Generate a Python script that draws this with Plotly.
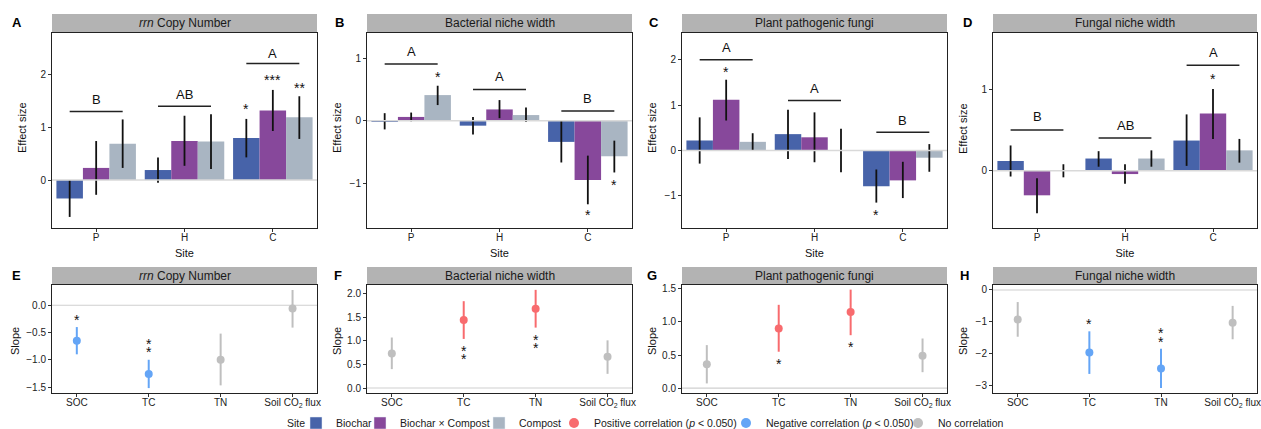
import plotly.graph_objects as go

W, H = 1261, 429
FONT = "Liberation Sans, Arial, sans-serif"

# ---------------- data ----------------
sites = ["P", "H", "C"]
treatments = ["Biochar", "Biochar × Compost", "Compost"]
factors = ["SOC", "TC", "TN", "Soil CO<sub>2</sub> flux"]

top_titles = ["<i>rrn</i> Copy Number", "Bacterial niche width",
              "Plant pathogenic fungi", "Fungal niche width"]
bottom_titles = top_titles
top_letters_panel = ["A", "B", "C", "D"]
bottom_letters_panel = ["E", "F", "G", "H"]
top_ytitle = "Effect size"
bottom_ytitle = "Slope"
legend_title = "Site"

# Panel A: rrn copy number (effect size, lower / upper CI)
rrn_biochar = [-0.35, 0.19, 0.80]
rrn_biochar_lo = [-0.70, -0.05, 0.43]
rrn_biochar_hi = [0.00, 0.43, 1.16]
rrn_bxc = [0.23, 0.74, 1.32]
rrn_bxc_lo = [-0.28, 0.27, 0.93]
rrn_bxc_hi = [0.74, 1.22, 1.71]
rrn_compost = [0.69, 0.73, 1.19]
rrn_compost_lo = [0.23, 0.21, 0.78]
rrn_compost_hi = [1.15, 1.25, 1.59]
rrn_groups = ["B", "AB", "A"]
rrn_group_line = [1.30, 1.40, 2.21]
rrn_group_text = [1.52, 1.62, 2.41]
rrn_star_site = [2, 2, 2]
rrn_star_trt = [0, 1, 2]
rrn_star_text = ["*", "***", "**"]
rrn_star_y = [1.40, 1.96, 1.81]

# Panel B: bacterial niche width
bnw_biochar = [-0.01, -0.08, -0.34]
bnw_biochar_lo = [-0.14, -0.22, -0.67]
bnw_biochar_hi = [0.12, 0.06, 0.00]
bnw_bxc = [0.06, 0.18, -0.95]
bnw_bxc_lo = [-0.01, 0.04, -1.34]
bnw_bxc_hi = [0.13, 0.33, -0.56]
bnw_compost = [0.41, 0.09, -0.57]
bnw_compost_lo = [0.25, -0.02, -0.83]
bnw_compost_hi = [0.56, 0.21, -0.32]
bnw_groups = ["A", "A", "B"]
bnw_group_line = [0.91, 0.50, 0.155]
bnw_group_text = [1.11, 0.70, 0.35]
bnw_star_site = [0, 2, 2]
bnw_star_trt = [2, 1, 2]
bnw_star_text = ["*", "*", "*"]
bnw_star_y = [0.75, -1.47, -0.98]

# Panel C: plant pathogenic fungi
ppf_biochar = [0.22, 0.36, -0.79]
ppf_biochar_lo = [-0.29, -0.19, -1.15]
ppf_biochar_hi = [0.73, 0.90, -0.42]
ppf_bxc = [1.12, 0.29, -0.66]
ppf_bxc_lo = [0.66, -0.26, -1.05]
ppf_bxc_hi = [1.56, 0.84, -0.25]
ppf_compost = [0.19, 0.00, -0.16]
ppf_compost_lo = [-0.01, -0.48, -0.47]
ppf_compost_hi = [0.38, 0.48, 0.14]
ppf_groups = ["A", "A", "B"]
ppf_group_line = [2.00, 1.10, 0.40]
ppf_group_text = [2.26, 1.375, 0.66]
ppf_star_site = [0, 2]
ppf_star_trt = [1, 0]
ppf_star_text = ["*", "*"]
ppf_star_y = [1.79, -1.36]

# Panel D: fungal niche width
fnw_biochar = [0.12, 0.15, 0.37]
fnw_biochar_lo = [-0.07, 0.05, 0.06]
fnw_biochar_hi = [0.31, 0.24, 0.69]
fnw_bxc = [-0.30, -0.04, 0.70]
fnw_bxc_lo = [-0.52, -0.16, 0.39]
fnw_bxc_hi = [-0.09, 0.08, 1.00]
fnw_compost = [0.005, 0.15, 0.25]
fnw_compost_lo = [-0.08, 0.05, 0.10]
fnw_compost_hi = [0.08, 0.25, 0.39]
fnw_groups = ["B", "AB", "A"]
fnw_group_line = [0.50, 0.40, 1.29]
fnw_group_text = [0.66, 0.56, 1.45]
fnw_star_site = [2]
fnw_star_trt = [1]
fnw_star_text = ["*"]
fnw_star_y = [1.155]

# Panel E-H: slopes vs soil factors
e_slope = [-0.65, -1.26, -1.00, -0.06]
e_lo = [-0.90, -1.52, -1.47, -0.41]
e_hi = [-0.40, -1.00, -0.52, 0.28]
e_corr = ["neg", "neg", "none", "none"]
e_star_x = [0, 1, 1]
e_star_y = [-0.21, -0.65, -0.80]

f_slope = [0.73, 1.44, 1.68, 0.66]
f_lo = [0.40, 1.04, 1.28, 0.30]
f_hi = [1.07, 1.84, 2.08, 1.01]
f_corr = ["none", "pos", "pos", "none"]
f_star_x = [1, 1, 2, 2]
f_star_y = [0.845, 0.68, 1.09, 0.915]

g_slope = [0.36, 0.90, 1.15, 0.49]
g_lo = [0.07, 0.55, 0.80, 0.24]
g_hi = [0.65, 1.26, 1.49, 0.75]
g_corr = ["none", "pos", "pos", "none"]
g_star_x = [1, 2]
g_star_y = [0.41, 0.67]

h_slope = [-0.93, -1.97, -2.47, -1.03]
h_lo = [-1.47, -2.64, -3.08, -1.55]
h_hi = [-0.38, -1.30, -1.85, -0.50]
h_corr = ["none", "neg", "neg", "none"]
h_star_x = [1, 2, 2]
h_star_y = [-0.96, -1.27, -1.53]

corr_names = {"pos": "Positive correlation (<i>p</i> &lt; 0.050)",
              "neg": "Negative correlation (<i>p</i> &lt; 0.050)",
              "none": "No correlation"}

# ---------------- styles ----------------
trt_colors = ["#4763A9", "#87489B", "#A9B5C2"]
corr_colors = {"pos": "#F86B6E", "neg": "#64A5F6", "none": "#BFBFBF"}
dodge = [-0.3, 0.0, 0.3]

top_panels = [
    dict(vals=[rrn_biochar, rrn_bxc, rrn_compost], lo=[rrn_biochar_lo, rrn_bxc_lo, rrn_compost_lo],
         hi=[rrn_biochar_hi, rrn_bxc_hi, rrn_compost_hi], groups=rrn_groups, gline=rrn_group_line,
         gtext=rrn_group_text, ss=rrn_star_site, st=rrn_star_trt, stx=rrn_star_text, sy=rrn_star_y,
         yrange=[-0.91, 2.79], tickvals=[0, 1, 2]),
    dict(vals=[bnw_biochar, bnw_bxc, bnw_compost], lo=[bnw_biochar_lo, bnw_bxc_lo, bnw_compost_lo],
         hi=[bnw_biochar_hi, bnw_bxc_hi, bnw_compost_hi], groups=bnw_groups, gline=bnw_group_line,
         gtext=bnw_group_text, ss=bnw_star_site, st=bnw_star_trt, stx=bnw_star_text, sy=bnw_star_y,
         yrange=[-1.72, 1.405], tickvals=[-1, 0, 1]),
    dict(vals=[ppf_biochar, ppf_bxc, ppf_compost], lo=[ppf_biochar_lo, ppf_bxc_lo, ppf_compost_lo],
         hi=[ppf_biochar_hi, ppf_bxc_hi, ppf_compost_hi], groups=ppf_groups, gline=ppf_group_line,
         gtext=ppf_group_text, ss=ppf_star_site, st=ppf_star_trt, stx=ppf_star_text, sy=ppf_star_y,
         yrange=[-1.71, 2.59], tickvals=[-1, 0, 1, 2]),
    dict(vals=[fnw_biochar, fnw_bxc, fnw_compost], lo=[fnw_biochar_lo, fnw_bxc_lo, fnw_compost_lo],
         hi=[fnw_biochar_hi, fnw_bxc_hi, fnw_compost_hi], groups=fnw_groups, gline=fnw_group_line,
         gtext=fnw_group_text, ss=fnw_star_site, st=fnw_star_trt, stx=fnw_star_text, sy=fnw_star_y,
         yrange=[-0.70, 1.686], tickvals=[0, 1]),
]

bottom_panels = [
    dict(s=e_slope, lo=e_lo, hi=e_hi, corr=e_corr, sx=e_star_x, sy=e_star_y,
         yrange=[-1.61, 0.372], tickvals=[0.0, -0.5, -1.0, -1.5], fmt=".1f"),
    dict(s=f_slope, lo=f_lo, hi=f_hi, corr=f_corr, sx=f_star_x, sy=f_star_y,
         yrange=[-0.106, 2.183], tickvals=[0.0, 0.5, 1.0, 1.5, 2.0], fmt=".1f"),
    dict(s=g_slope, lo=g_lo, hi=g_hi, corr=g_corr, sx=g_star_x, sy=g_star_y,
         yrange=[-0.075, 1.56], tickvals=[0.0, 0.5, 1.0, 1.5], fmt=".1f"),
    dict(s=h_slope, lo=h_lo, hi=h_hi, corr=h_corr, sx=h_star_x, sy=h_star_y,
         yrange=[-3.24, 0.157], tickvals=[0, -1, -2, -3], fmt="d"),
]

xpix = [(52, 317), (367, 632), (682, 947), (993, 1257)]
top_ypix = (33, 228)
bot_ypix = (285, 393)
top_strip = (14, 33)
bot_strip = (267, 285)
top_letter_pos = [(17, 22.5), (339.5, 22.5), (654, 22.5), (967, 22.5)]
bot_letter_pos = [(16.5, 275.5), (338, 275.5), (652, 275.5), (964.5, 275.5)]
top_ytitle_px = [(22, 128), (337, 128), (652, 128), (963, 128)]
bot_ytitle_px = [(15, 341), (337, 341), (652, 341), (963, 341)]

fig = go.Figure()
shapes = []
annotations = []
layout = {}


def sfx(i):
    return "" if i == 1 else str(i)


def px2x(p):
    return p / W


def px2y(p):
    return 1 - p / H


axis_common = dict(showgrid=False, zeroline=False, showline=True, mirror=True,
                   linecolor="#222222", linewidth=1, ticks="outside", ticklen=3,
                   tickcolor="#333333", tickwidth=1,
                   tickfont=dict(family=FONT, size=10, color="#222222"))


def paper_text(x, y, text, size, angle=0, color="#111111"):
    return dict(x=px2x(x), y=px2y(y), xref="paper", yref="paper", text=text, showarrow=False,
                font=dict(family=FONT, size=size, color=color), textangle=angle,
                xanchor="center", yanchor="middle")


# -------- top panels (bars) --------
for k, p in enumerate(top_panels):
    i = k + 1
    xa, ya = "x" + sfx(i), "y" + sfx(i)
    for t in range(3):
        xs = [s + 1 + dodge[t] for s in range(3)]
        v = p["vals"][t]
        fig.add_trace(go.Bar(
            x=xs, y=v, width=0.3, marker=dict(color=trt_colors[t], line=dict(width=0)),
            error_y=dict(type="data", symmetric=False,
                         array=[h - a for h, a in zip(p["hi"][t], v)],
                         arrayminus=[a - l for a, l in zip(v, p["lo"][t])],
                         color="#111111", thickness=1.8, width=0),
            xaxis=xa, yaxis=ya, showlegend=False, name=treatments[t]))
    # significance group lines
    lx, ly = [], []
    for s in range(3):
        lx += [s + 1 + dodge[0], s + 1 + dodge[2], None]
        ly += [p["gline"][s], p["gline"][s], None]
    fig.add_trace(go.Scatter(x=lx, y=ly, mode="lines", line=dict(color="#222222", width=1.5),
                             xaxis=xa, yaxis=ya, showlegend=False, hoverinfo="skip"))
    for s in range(3):
        annotations.append(dict(x=s + 1, y=p["gtext"][s], xref=xa, yref=ya, text=p["groups"][s],
                                showarrow=False, font=dict(family=FONT, size=13, color="#111111"),
                                xanchor="center", yanchor="middle"))
    for s, t, tx, y in zip(p["ss"], p["st"], p["stx"], p["sy"]):
        annotations.append(dict(x=s + 1 + dodge[t], y=y, xref=xa, yref=ya, text=tx, showarrow=False,
                                font=dict(family=FONT, size=14, color="#111111"),
                                xanchor="center", yanchor="middle", yshift=-3))
    shapes.append(dict(type="line", xref=xa + " domain", yref=ya, x0=0, x1=1, y0=0, y1=0,
                       line=dict(color="#D9D9D9", width=1.5), layer="above"))
    layout["xaxis" + sfx(i)] = dict(axis_common, domain=[px2x(xpix[k][0]), px2x(xpix[k][1])],
                                    range=[0.5, 3.5], tickvals=[1, 2, 3], ticktext=sites,
                                    anchor=ya, ticklabelstandoff=-3,
                                    title=dict(text="Site", font=dict(family=FONT, size=11, color="#111111"),
                                               standoff=7))
    layout["yaxis" + sfx(i)] = dict(axis_common, domain=[px2y(top_ypix[1]), px2y(top_ypix[0])],
                                    range=p["yrange"], tickvals=p["tickvals"], anchor=xa)
    annotations.append(paper_text(top_ytitle_px[k][0], top_ytitle_px[k][1], top_ytitle, 11, -90))
    # strip
    shapes.append(dict(type="rect", xref="paper", yref="paper",
                       x0=px2x(xpix[k][0]), x1=px2x(xpix[k][1]),
                       y0=px2y(top_strip[1]), y1=px2y(top_strip[0]),
                       fillcolor="#B3B3B3", line=dict(width=0), layer="below"))
    annotations.append(paper_text((xpix[k][0] + xpix[k][1]) / 2, sum(top_strip) / 2,
                                  top_titles[k], 12, color="#1A1A1A"))
    annotations.append(paper_text(top_letter_pos[k][0], top_letter_pos[k][1],
                                  "<b>%s</b>" % top_letters_panel[k], 13, color="#000000"))

# -------- bottom panels (slopes) --------
for k, p in enumerate(bottom_panels):
    i = k + 5
    xa, ya = "x" + sfx(i), "y" + sfx(i)
    shapes.append(dict(type="line", xref=xa + " domain", yref=ya, x0=0, x1=1, y0=0, y1=0,
                       line=dict(color="#CFCFCF", width=1.2), layer="below"))
    for c in ["pos", "neg", "none"]:
        idx = [j for j, cc in enumerate(p["corr"]) if cc == c]
        if not idx:
            continue
        xs = [j + 1 for j in idx]
        ys = [p["s"][j] for j in idx]
        fig.add_trace(go.Scatter(
            x=xs, y=ys, mode="markers", marker=dict(color=corr_colors[c], size=8),
            error_y=dict(type="data", symmetric=False,
                         array=[p["hi"][j] - p["s"][j] for j in idx],
                         arrayminus=[p["s"][j] - p["lo"][j] for j in idx],
                         color=corr_colors[c], thickness=2, width=0),
            xaxis=xa, yaxis=ya, showlegend=False, name=corr_names[c]))
    for sx, sy in zip(p["sx"], p["sy"]):
        annotations.append(dict(x=sx + 1, y=sy, xref=xa, yref=ya, text="*", showarrow=False,
                                font=dict(family=FONT, size=14, color="#111111"),
                                xanchor="center", yanchor="middle", yshift=-3))
    layout["xaxis" + sfx(i)] = dict(axis_common, domain=[px2x(xpix[k][0]), px2x(xpix[k][1])],
                                    range=[0.655, 4.34], tickvals=[1, 2, 3, 4], ticktext=factors,
                                    anchor=ya, ticklabelstandoff=-3)
    layout["yaxis" + sfx(i)] = dict(axis_common, domain=[px2y(bot_ypix[1]), px2y(bot_ypix[0])],
                                    range=p["yrange"], tickvals=p["tickvals"], tickformat=p["fmt"],
                                    anchor=xa)
    annotations.append(paper_text(bot_ytitle_px[k][0], bot_ytitle_px[k][1], bottom_ytitle, 11, -90))
    shapes.append(dict(type="rect", xref="paper", yref="paper",
                       x0=px2x(xpix[k][0]), x1=px2x(xpix[k][1]),
                       y0=px2y(bot_strip[1]), y1=px2y(bot_strip[0]),
                       fillcolor="#B3B3B3", line=dict(width=0), layer="below"))
    annotations.append(paper_text((xpix[k][0] + xpix[k][1]) / 2, sum(bot_strip) / 2,
                                  bottom_titles[k], 12, color="#1A1A1A"))
    annotations.append(paper_text(bot_letter_pos[k][0], bot_letter_pos[k][1],
                                  "<b>%s</b>" % bottom_letters_panel[k], 13, color="#000000"))

# -------- legend (one small legend per key, laid out in a row) --------
legend_keys = [("bar", treatments[0], trt_colors[0]),
               ("bar", treatments[1], trt_colors[1]),
               ("bar", treatments[2], trt_colors[2]),
               ("pt", corr_names["pos"], corr_colors["pos"]),
               ("pt", corr_names["neg"], corr_colors["neg"]),
               ("pt", corr_names["none"], corr_colors["none"])]
legend_text_px = [330, 394, 513, 588, 760, 932]
legend_row_px = 423
annotations.append(paper_text(296, legend_row_px, legend_title, 10.5, color="#1A1A1A"))
for n, (kind, name, col) in enumerate(legend_keys):
    lname = "legend" if n == 0 else "legend%d" % (n + 1)
    if kind == "bar":
        tr = go.Bar(x=[None], y=[None], name=name, marker=dict(color=col), legend=lname,
                    showlegend=True, xaxis="x", yaxis="y")
    else:
        tr = go.Scatter(x=[None], y=[None], name=name, mode="markers",
                        marker=dict(color=col, size=10), legend=lname, showlegend=True,
                        xaxis="x5", yaxis="y5")
    fig.add_trace(tr)
    layout[lname] = dict(orientation="h", x=px2x(legend_text_px[n] - 34), y=px2y(legend_row_px),
                         xref="paper", yref="paper",
                         xanchor="left", yanchor="middle", bgcolor="rgba(0,0,0,0)", borderwidth=0,
                         font=dict(family=FONT, size=10.5, color="#1A1A1A"), itemclick=False,
                         itemdoubleclick=False)

fig.update_layout(
    width=W, height=H, margin=dict(l=0, r=0, t=0, b=0, autoexpand=False),
    paper_bgcolor="white", plot_bgcolor="white", barmode="overlay",
    font=dict(family=FONT, size=10, color="#1A1A1A"),
    shapes=shapes, annotations=annotations, **layout)

fig.write_html("out.html")
